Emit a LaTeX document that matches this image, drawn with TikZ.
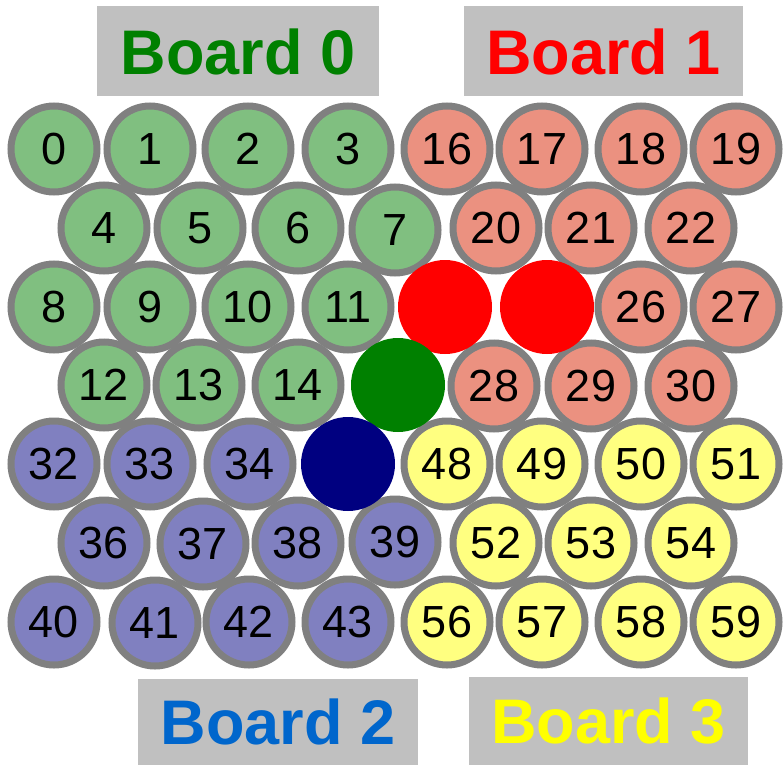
\documentclass[tikz,border=0pt]{standalone}
\usepackage{fontspec}
\setmainfont{Liberation Sans}
\usepackage{tikz}
\usetikzlibrary{positioning}

\definecolor{ringgray}{RGB}{128,128,128}
\definecolor{boxgray}{RGB}{192,192,192}
\definecolor{greenball}{RGB}{128,191,128}
\definecolor{redball}{RGB}{235,145,128}
\definecolor{blueball}{RGB}{128,128,192}
\definecolor{yellowball}{RGB}{255,255,128}
\definecolor{boardgreen}{RGB}{0,128,0}
\definecolor{boardred}{RGB}{255,0,0}
\definecolor{boardblue}{RGB}{0,102,204}
\definecolor{boardyellow}{RGB}{255,255,0}
\definecolor{navyspot}{RGB}{0,0,128}

\begin{document}
\begin{tikzpicture}[
    x=1pt, y=-1pt,
    ball/.style={circle, draw=ringgray, line width=7pt, minimum size=86pt, inner sep=0pt, font=\fontsize{45}{45}\selectfont},
    spot/.style={circle, minimum size=94pt, inner sep=0pt},
    boardbox/.style={fill=boxgray, minimum height=90pt, inner sep=0pt, font=\bfseries\fontsize{63}{63}\selectfont}
]
    \useasboundingbox (0,0) rectangle (783,765);

    % Board labels
    \node[boardbox, minimum width=282pt, text=boardgreen] (board0) at (238,51.5) {Board 0};
    \node[boardbox, minimum width=279pt, text=boardred] (board1) at (603.5,51.5) {Board 1};
    \node[boardbox, minimum width=280pt, minimum height=86pt, text=boardblue] (board2) at (278,722) {Board 2};
    \node[boardbox, minimum width=279pt, minimum height=88pt, text=boardyellow] (board3) at (608.5,721) {Board 3};

    % Board 0
    \foreach \n/\x/\y in {0/54/149, 1/150/149, 2/248/149, 3/348/149,
                          4/104/228, 5/200/228, 6/298/228, 7/395/230,
                          8/54/307, 9/150/307, 10/248/307, 11/348/307,
                          12/104/385, 13/199/385, 14/298/385}
        \node[ball, fill=greenball] (p\n) at (\x,\y) {\n};

    % Board 1
    \foreach \n/\x/\y in {16/447/149, 17/542/149, 18/641/149, 19/736/149,
                          20/496/228, 21/591/228, 22/691/228,
                          26/641/307, 27/736/307,
                          28/494/386, 29/591/386, 30/691/386}
        \node[ball, fill=redball] (p\n) at (\x,\y) {\n};

    % Board 2
    \foreach \n/\x/\y in {32/54/464, 33/150/464, 34/250/464,
                          36/104/543, 37/203/544, 38/298/543, 39/395/542,
                          40/54/622, 41/155/623, 42/249/622, 43/348/622}
        \node[ball, fill=blueball] (p\n) at (\x,\y) {\n};

    % Board 3
    \foreach \n/\x/\y in {48/447/464, 49/542/464, 50/641/464, 51/736/464,
                          52/496/543, 53/591/543, 54/691/543,
                          56/447/622, 57/542/622, 58/641/622, 59/736/622}
        \node[ball, fill=yellowball] (p\n) at (\x,\y) {\n};

    % Empty spots
    \node[spot, fill=boardred] (redleft) at (445,307) {};
    \node[spot, fill=boardred] (redright) at (547,307) {};
    \node[spot, fill=boardgreen] (greenspot) at (398,385) {};
    \node[spot, fill=navyspot] (bluespot) at (348,464) {};
\end{tikzpicture}
\end{document}
